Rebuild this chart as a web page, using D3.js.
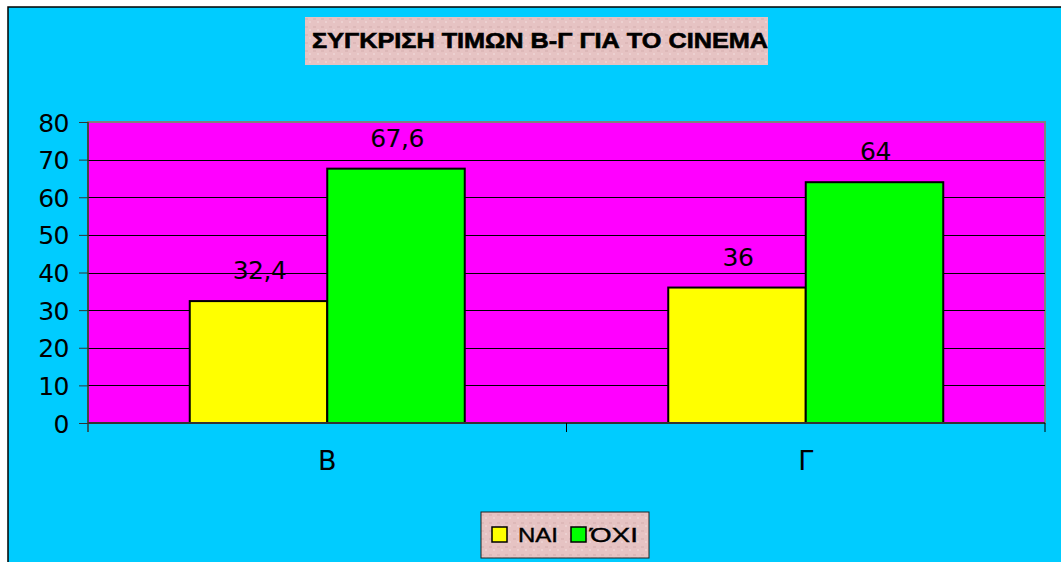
<!DOCTYPE html>
<html><head><meta charset="UTF-8">
<title>ΣΥΓΚΡΙΣΗ ΤΙΜΩΝ Β-Γ ΓΙΑ ΤΟ CINEMA</title>
<script src="https://d3js.org/d3.v7.min.js"></script>
<style>
  body { margin: 0; background: #fff; }
</style>
</head>
<body>
<svg width="1061" height="562"></svg>
<script>
  // data
  const categories = ["Β", "Γ"];
  const seriesNames = ["ΝΑΙ", "ΌΧΙ"];
  const naiValues = [32.4, 36];
  const oxiValues = [67.6, 64];
  const yTicks = [0, 10, 20, 30, 40, 50, 60, 70, 80];
  const title = "ΣΥΓΚΡΙΣΗ ΤΙΜΩΝ Β-Γ ΓΙΑ ΤΟ CINEMA";

  const colors = {"ΝΑΙ": "#ffff00", "ΌΧΙ": "#00ff00"};
  const numFont = "'DejaVu Sans', 'Liberation Sans', sans-serif";
  const txtFont = "'Liberation Sans', Arial, sans-serif";

  const rows = categories.map((c, i) => ({cat: c, values: [
    {key: "ΝΑΙ", value: naiValues[i]},
    {key: "ΌΧΙ", value: oxiValues[i]}
  ]}));

  const svg = d3.select("svg");

  // pattern for the pinkish textured boxes
  const defs = svg.append("defs");
  const pat = defs.append("pattern").attr("id", "tex")
      .attr("width", 8).attr("height", 8).attr("patternUnits", "userSpaceOnUse");
  pat.append("rect").attr("width", 8).attr("height", 8).attr("fill", "#e6c3c3");
  pat.append("rect").attr("x", 1).attr("y", 2).attr("width", 3).attr("height", 2).attr("fill", "#ddb8b8");
  pat.append("rect").attr("x", 5).attr("y", 5).attr("width", 2).attr("height", 2).attr("fill", "#ecd0d0");

  // chart background
  svg.append("rect")
      .attr("x", 8).attr("y", 7).attr("width", 1070).attr("height", 570)
      .attr("fill", "#00ccff").attr("stroke", "#000").attr("stroke-width", 1.5);

  const plot = {left: 88, right: 1045, top: 122, bottom: 423};

  const x0 = d3.scaleBand().domain(categories).range([plot.left, plot.right]);
  const x1 = d3.scaleBand().domain(seriesNames)
      .range([0, x0.bandwidth()]).paddingOuter(0.74);
  const y = d3.scaleLinear().domain([0, 80]).range([plot.bottom, plot.top]);

  // plot area
  svg.append("rect")
      .attr("x", plot.left).attr("y", plot.top)
      .attr("width", plot.right - plot.left).attr("height", plot.bottom - plot.top)
      .attr("fill", "#ff00ff").attr("stroke", "#808080").attr("stroke-width", 2);

  // gridlines
  svg.append("g").selectAll("line")
    .data(yTicks.filter(t => t > 0 && t < 80))
    .join("line")
      .attr("x1", plot.left).attr("x2", plot.right)
      .attr("y1", d => Math.round(y(d)) + 0.5).attr("y2", d => Math.round(y(d)) + 0.5)
      .attr("stroke", "#000").attr("stroke-width", 1);

  // bars
  const groups = svg.append("g").selectAll("g")
    .data(rows)
    .join("g")
      .attr("transform", d => "translate(" + x0(d.cat) + ",0)");

  groups.selectAll("rect")
    .data(d => d.values)
    .join("rect")
      .attr("x", d => x1(d.key))
      .attr("y", d => y(d.value))
      .attr("width", x1.bandwidth())
      .attr("height", d => y(0) - y(d.value))
      .attr("fill", d => colors[d.key])
      .attr("stroke", "#000").attr("stroke-width", 2);

  groups.selectAll("text")
    .data(d => d.values)
    .join("text")
      .attr("x", d => x1(d.key) + x1.bandwidth() / 2 + 1)
      .attr("y", d => y(d.value) - 22)
      .attr("text-anchor", "middle")
      .style("font-family", numFont)
      .style("font-size", "25px")
      .style("letter-spacing", "-0.5px")
      .text(d => String(d.value).replace(".", ","));

  // y axis
  const yAxis = svg.append("g")
      .attr("transform", "translate(" + plot.left + ",0)")
      .call(d3.axisLeft(y).tickValues(yTicks).tickSize(9).tickPadding(10));
  yAxis.select(".domain").attr("stroke", "#333").attr("stroke-width", 1.5)
      .attr("d", "M0," + plot.top + "V" + (plot.bottom + 9));
  yAxis.selectAll(".tick line").attr("stroke", "#333");
  yAxis.selectAll("text")
      .style("font-family", numFont)
      .style("font-size", "25px").style("letter-spacing", "-0.5px")
      .attr("fill", "#000")
      .attr("dy", "0.36em");

  // x axis
  const xAxis = svg.append("g")
      .attr("transform", "translate(0," + plot.bottom + ")")
      .call(d3.axisBottom(x0).tickSize(0).tickPadding(28));
  xAxis.select(".domain").attr("stroke", "#333").attr("stroke-width", 2)
      .attr("d", "M" + plot.left + ",0H" + plot.right);
  xAxis.selectAll("text")
      .style("font-family", numFont)
      .style("font-size", "27px").attr("fill", "#000");
  xAxis.append("g").selectAll("line")
    .data(categories.slice(1).map(c => x0(c)).concat([plot.right]))
    .join("line")
      .attr("x1", d => d).attr("x2", d => d)
      .attr("y1", 0).attr("y2", 9)
      .attr("stroke", "#000");

  // title
  svg.append("rect")
      .attr("x", 305).attr("y", 17).attr("width", 463).attr("height", 48)
      .attr("fill", "url(#tex)");
  svg.append("text")
      .attr("x", 312).attr("y", 48)
      .style("font-family", txtFont)
      .style("font-size", "22px").style("font-weight", "bold")
      .attr("stroke", "#000").attr("stroke-width", 0.6)
      .attr("textLength", 456).attr("lengthAdjust", "spacingAndGlyphs")
      .text(title);

  // legend
  const legend = svg.append("g");
  legend.append("rect")
      .attr("x", 481).attr("y", 512).attr("width", 168).attr("height", 46)
      .attr("fill", "url(#tex)").attr("stroke", "#222").attr("stroke-width", 1);
  const legX = [492, 571];
  const legTextW = [40, 48];
  seriesNames.forEach((s, i) => {
    legend.append("rect")
        .attr("x", legX[i]).attr("y", 527).attr("width", 15).attr("height", 15)
        .attr("fill", colors[s]).attr("stroke", "#000").attr("stroke-width", 1.5);
    legend.append("text")
        .attr("x", legX[i] + 26 - (i === 1 ? 7 : 0)).attr("y", 542)
        .style("font-family", txtFont)
        .style("font-size", "21px")
        .attr("stroke", "#000").attr("stroke-width", 0.4)
        .attr("textLength", legTextW[i]).attr("lengthAdjust", "spacingAndGlyphs")
        .text(s);
  });
</script>
</body></html>
